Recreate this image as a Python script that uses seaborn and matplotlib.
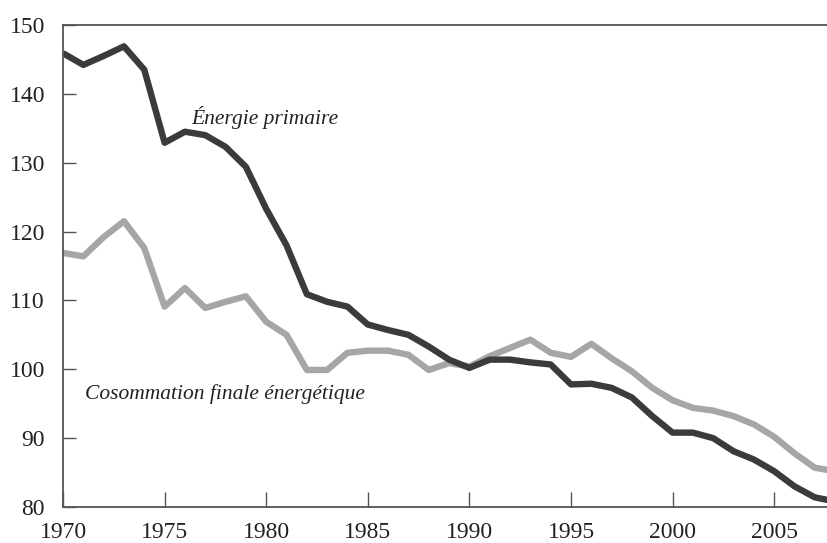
import pandas as pd
import matplotlib
matplotlib.use('Agg')
import matplotlib.pyplot as plt
import seaborn as sns

years = list(range(1970, 2009))
primaire = [145.9, 144.2, 145.5, 146.9, 143.5, 132.9, 134.5, 134.0, 132.3, 129.4,
            123.3, 118.0, 110.9, 109.8, 109.1, 106.5, 105.7, 105.0, 103.3, 101.4,
            100.2, 101.4, 101.4, 101.0, 100.7, 97.8, 97.9, 97.3, 95.9, 93.2,
            90.8, 90.8, 90.0, 88.1, 86.9, 85.2, 83.0, 81.4, 80.8]
finale = [116.9, 116.4, 119.2, 121.5, 117.6, 109.1, 111.8, 108.9, 109.8, 110.6,
          106.9, 105.0, 99.9, 99.9, 102.4, 102.7, 102.7, 102.1, 99.9, 100.9,
          100.4, 101.9, 103.1, 104.3, 102.4, 101.8, 103.7, 101.6, 99.7, 97.3,
          95.5, 94.4, 94.0, 93.2, 92.0, 90.2, 87.8, 85.7, 85.2]
ytick_vals = [80, 90, 100, 110, 120, 130, 140, 150]
xtick_vals = [1970, 1975, 1980, 1985, 1990, 1995, 2000, 2005]

df = pd.DataFrame({'annee': years, 'primaire': primaire, 'finale': finale})

sns.set_style('white')
plt.rcParams['font.family'] = ['Liberation Serif', 'DejaVu Serif']

fig = plt.figure(figsize=(8.27, 5.43), dpi=100)
ax = fig.add_axes([0.0762, 0.0663, 0.9238, 0.8877])

sns.lineplot(data=df, x='annee', y='finale', color='#a6a6a6', linewidth=4.6,
             ax=ax, solid_joinstyle='round', solid_capstyle='butt')
sns.lineplot(data=df, x='annee', y='primaire', color='#3b3b3b', linewidth=4.6,
             ax=ax, solid_joinstyle='round', solid_capstyle='butt')

ax.set_xlim(1970, 2007.6)
ax.set_ylim(80, 150)
ax.set_xticks(xtick_vals)
ax.set_yticks(ytick_vals)
ax.set_xlabel('')
ax.set_ylabel('')

for s in ['left', 'bottom', 'top']:
    ax.spines[s].set_color('#555555')
    ax.spines[s].set_linewidth(1.3)
ax.spines['right'].set_visible(False)

ax.tick_params(axis='x', bottom=True, direction='in', length=11, width=1,
               color='#555555', pad=10.5, labelsize=17, labelcolor='#222222')
ax.tick_params(axis='y', left=True, direction='in', length=9, width=1,
               color='#555555', pad=13, labelsize=17, labelcolor='#222222')

ax.text(1976.3, 134.9, 'Énergie primaire', style='italic', fontsize=15.5,
        color='#222222', va='bottom')
ax.text(1971.1, 96.4, 'Cosommation finale énergétique', style='italic',
        fontsize=15.5, color='#222222', va='center')

fig.savefig('out.png', dpi=100)
